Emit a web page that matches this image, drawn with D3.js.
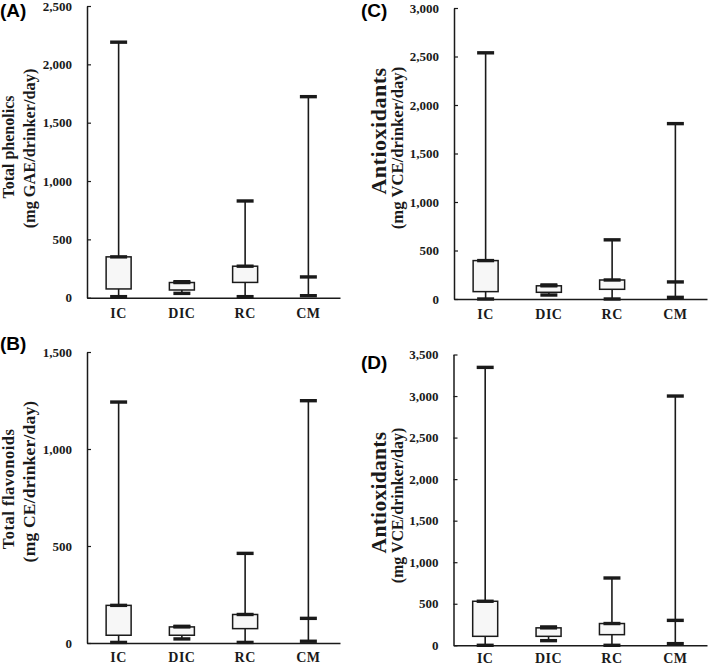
<!DOCTYPE html>
<html>
<head>
<meta charset="utf-8">
<script src="https://cdn.jsdelivr.net/npm/d3@7"></script>
<style>
  html, body { margin: 0; padding: 0; background: #fff; }
  svg { display: block; }
</style>
</head>
<body>
<svg id="chart" width="708" height="666"></svg>
<script>
// ---------- DATA ----------
const categories = ["IC", "DIC", "RC", "CM"];

// (A) Total phenolics (mg GAE/drinker/day)
const phenolicsMin = [9, 37, 9, 17];
const phenolicsQ1  = [75, 66, 131, 178];
const phenolicsQ3  = [350, 130, 270, 178];
const phenolicsMax = [2190, 137, 829, 1723];
const phenolicsTicks = [0, 500, 1000, 1500, 2000, 2500];

// (B) Total flavonoids (mg CE/drinker/day)
const flavonoidsMin = [3, 21, 3, 9];
const flavonoidsQ1  = [40, 40, 74, 127];
const flavonoidsQ3  = [194, 83, 147, 127];
const flavonoidsMax = [1242, 86, 462, 1249];
const flavonoidsTicks = [0, 500, 1000, 1500];

// (C) Antioxidants (mg VCE/drinker/day)
const antioxCMin = [0, 41, 0, 17];
const antioxCQ1  = [76, 69, 100, 176];
const antioxCQ3  = [396, 136, 196, 176];
const antioxCMax = [2538, 145, 610, 1808];
const antioxCTicks = [0, 500, 1000, 1500, 2000, 2500, 3000];

// (D) Antioxidants (mg VCE/drinker/day)
const antioxDMin = [0, 56, 0, 20];
const antioxDQ1  = [108, 108, 128, 300];
const antioxDQ3  = [530, 210, 262, 300];
const antioxDMax = [3345, 221, 810, 3000];
const antioxDTicks = [0, 500, 1000, 1500, 2000, 2500, 3000, 3500];

// ---------- LAYOUT ----------
const panels = [
  { tag: "(A)", title: ["Total phenolics", "(mg GAE/drinker/day)"],
    min: phenolicsMin, q1: phenolicsQ1, q3: phenolicsQ3, max: phenolicsMax, ticks: phenolicsTicks,
    ax: 87, top: 6, bottom: 297.7, right: 340, tagX: 0, tagY: 17, catY: 318,
    titleY: [147, 148.5], titleSize: [16, 16.3], titleOff: [-73, -52.5], titleSpacing: [0, 0] },
  { tag: "(B)", title: ["Total flavonoids", "(mg CE/drinker/day)"],
    min: flavonoidsMin, q1: flavonoidsQ1, q3: flavonoidsQ3, max: flavonoidsMax, ticks: flavonoidsTicks,
    ax: 87, top: 352, bottom: 643, right: 340, tagX: 0, tagY: 350, catY: 662,
    titleY: [489, 481.5], titleSize: [16.5, 17.5], titleOff: [-73, -52.5], titleSpacing: [0.5, 0.2] },
  { tag: "(C)", title: ["Antioxidants", "(mg VCE/drinker/day)"],
    min: antioxCMin, q1: antioxCQ1, q3: antioxCQ3, max: antioxCMax, ticks: antioxCTicks,
    ax: 454, top: 8, bottom: 299, right: 707, tagX: 361, tagY: 17, catY: 319,
    titleY: [131, 148], titleSize: [22, 16.7], titleOff: [-68, -51], titleSpacing: [0.5, 0] },
  { tag: "(D)", title: ["Antioxidants", "(mg VCE/drinker/day)"],
    min: antioxDMin, q1: antioxDQ1, q3: antioxDQ3, max: antioxDMax, ticks: antioxDTicks,
    ax: 453.5, top: 354.5, bottom: 645.3, right: 707, tagX: 361, tagY: 369, catY: 663,
    titleY: [492.5, 505.5], titleSize: [21.5, 16], titleOff: [-68, -51], titleSpacing: [0.3, 0] }
];

const serif = "'Liberation Serif', 'Times New Roman', serif";
const sans = "'Liberation Sans', Arial, sans-serif";
const ink = "#1a1a1a";
const svg = d3.select("#chart");
const fmt = d3.format(",");

panels.forEach(p => {
  const g = svg.append("g");
  const yMax = p.ticks[p.ticks.length - 1];
  const y = d3.scaleLinear().domain([0, yMax]).range([p.bottom, p.top]);
  const x = d3.scaleBand().domain(categories).range([p.ax, p.right]).padding(0);

  // y axis
  const yAxis = d3.axisLeft(y).tickValues(p.ticks).tickFormat(fmt)
    .tickSizeInner(-4).tickSizeOuter(0).tickPadding(15);
  const ya = g.append("g").attr("transform", `translate(${p.ax},0)`).call(yAxis);
  ya.select(".domain").attr("stroke", ink).attr("stroke-width", 1.5);
  ya.selectAll(".tick line").attr("stroke", ink).attr("stroke-width", 1.2);
  ya.selectAll(".tick text").attr("fill", ink)
    .style("font-family", serif).style("font-weight", "bold").style("font-size", "13px");

  // x axis
  const xAxis = d3.axisBottom(x).tickSize(0).tickPadding(0);
  const xa = g.append("g").attr("transform", `translate(0,${p.bottom})`).call(xAxis);
  xa.select(".domain").attr("stroke", ink).attr("stroke-width", 1.5);
  xa.selectAll(".tick text").attr("fill", ink).attr("dy", null)
    .attr("y", p.catY - p.bottom)
    .style("font-family", serif).style("font-weight", "bold").style("font-size", "14px")
    .style("letter-spacing", "0.5px");

  // boxes
  const bw = 25, cw = 17;
  const data = categories.map((c, i) => ({ c, min: p.min[i], q1: p.q1[i], q3: p.q3[i], max: p.max[i] }));
  const bx = g.selectAll("g.box").data(data).join("g").attr("class", "box")
    .attr("transform", d => `translate(${x(d.c) + x.bandwidth() / 2},0)`);

  // whiskers
  bx.append("line").attr("x1", 0).attr("x2", 0)
    .attr("y1", d => y(d.q3)).attr("y2", d => y(d.max))
    .attr("stroke", ink).attr("stroke-width", 1.6);
  bx.append("line").attr("x1", 0).attr("x2", 0)
    .attr("y1", d => y(d.q1)).attr("y2", d => y(d.min))
    .attr("stroke", ink).attr("stroke-width", 1.6);
  // box
  bx.append("rect").attr("x", -bw / 2).attr("width", bw)
    .attr("y", d => y(d.q3)).attr("height", d => Math.max(0, y(d.q1) - y(d.q3)))
    .attr("fill", "#f7f7f7").attr("stroke", ink).attr("stroke-width", 1.5);
  // caps
  ["max", "q3", "min"].forEach(k => {
    bx.append("line").attr("x1", -cw / 2).attr("x2", cw / 2)
      .attr("y1", d => y(d[k])).attr("y2", d => y(d[k]))
      .attr("stroke", ink).attr("stroke-width", 3.4);
  });

  // axis title (two lines)
  p.title.forEach((t, i) => {
    g.append("text")
      .attr("transform", `translate(${p.ax + p.titleOff[i]},${p.titleY[i]}) rotate(-90)`)
      .attr("text-anchor", "middle").attr("fill", ink)
      .style("font-family", serif).style("font-weight", "bold")
      .style("font-size", p.titleSize[i] + "px")
      .style("letter-spacing", p.titleSpacing[i] + "px")
      .text(t);
  });

  // panel tag
  g.append("text").attr("x", p.tagX).attr("y", p.tagY).attr("fill", "#000")
    .style("font-family", sans).style("font-weight", "bold").style("font-size", "19px")
    .text(p.tag);
});
</script>
</body>
</html>
